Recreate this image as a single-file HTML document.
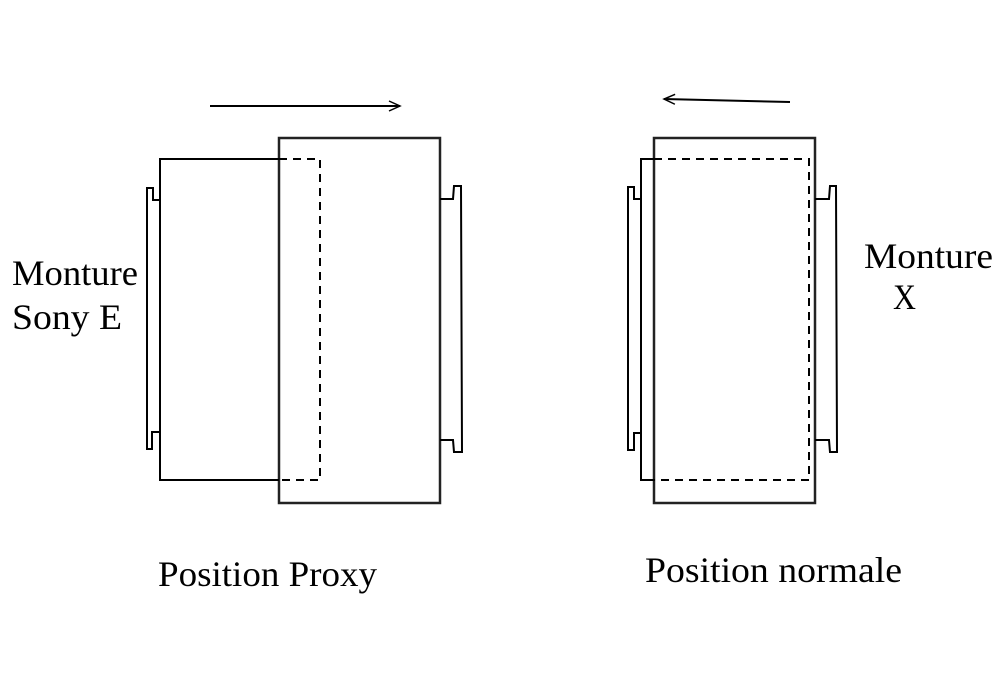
<!DOCTYPE html>
<html><head><meta charset="utf-8"><style>html,body{margin:0;padding:0;background:#fff;}svg{display:block}</style></head>
<body>
<svg width="1000" height="700" viewBox="0 0 1000 700" xmlns="http://www.w3.org/2000/svg">
<defs><marker id="ah" markerWidth="14" markerHeight="12" refX="12" refY="6" orient="auto" markerUnits="userSpaceOnUse"><path d="M1,1 L12,6 L1,11" fill="none" stroke="#000" stroke-width="1.5"/></marker></defs>
<g fill="none" stroke="#000" stroke-width="2">
<line x1="210" y1="106" x2="400" y2="106" marker-end="url(#ah)"/>
<rect x="279" y="138" width="161" height="365" stroke="#222" stroke-width="2.5"/>
<polyline points="279,159 160,159 160,480 279,480"/>
<polyline points="279,159 320,159 320,480 279,480" stroke-dasharray="8,6"/>
<polyline points="160,200 153,200 153,188 147,188 147,449 152,449 152,432 160,432"/>
<polyline points="440,199 453,199 454,186 461,186 462,452 454,452 453,440 440,440"/>
<line x1="790" y1="102" x2="664" y2="99" marker-end="url(#ah)"/>
<rect x="654" y="138" width="161" height="365" stroke="#222" stroke-width="2.5"/>
<polyline points="654,159 641,159 641,480 654,480"/>
<polyline points="654,159 809,159 809,480 654,480" stroke-dasharray="8,6"/>
<polyline points="641,199 634,199 634,187 628,187 628,450 634,450 634,433 641,433"/>
<polyline points="815,199 829,199 830,186 836,186 837,452 830,452 829,440 815,440"/>
</g>
<g font-family="'Liberation Serif', serif" font-size="36" fill="#000">
<text x="12" y="285" textLength="126" lengthAdjust="spacingAndGlyphs">Monture</text>
<text x="12" y="329" textLength="110" lengthAdjust="spacingAndGlyphs">Sony E</text>
<text x="864" y="268" textLength="129" lengthAdjust="spacingAndGlyphs">Monture</text>
<text x="893" y="309" textLength="23" lengthAdjust="spacingAndGlyphs">X</text>
<text x="158" y="586" textLength="219" lengthAdjust="spacingAndGlyphs">Position Proxy</text>
<text x="645" y="582" textLength="257" lengthAdjust="spacingAndGlyphs">Position normale</text>
</g>
</svg>
</body></html>
